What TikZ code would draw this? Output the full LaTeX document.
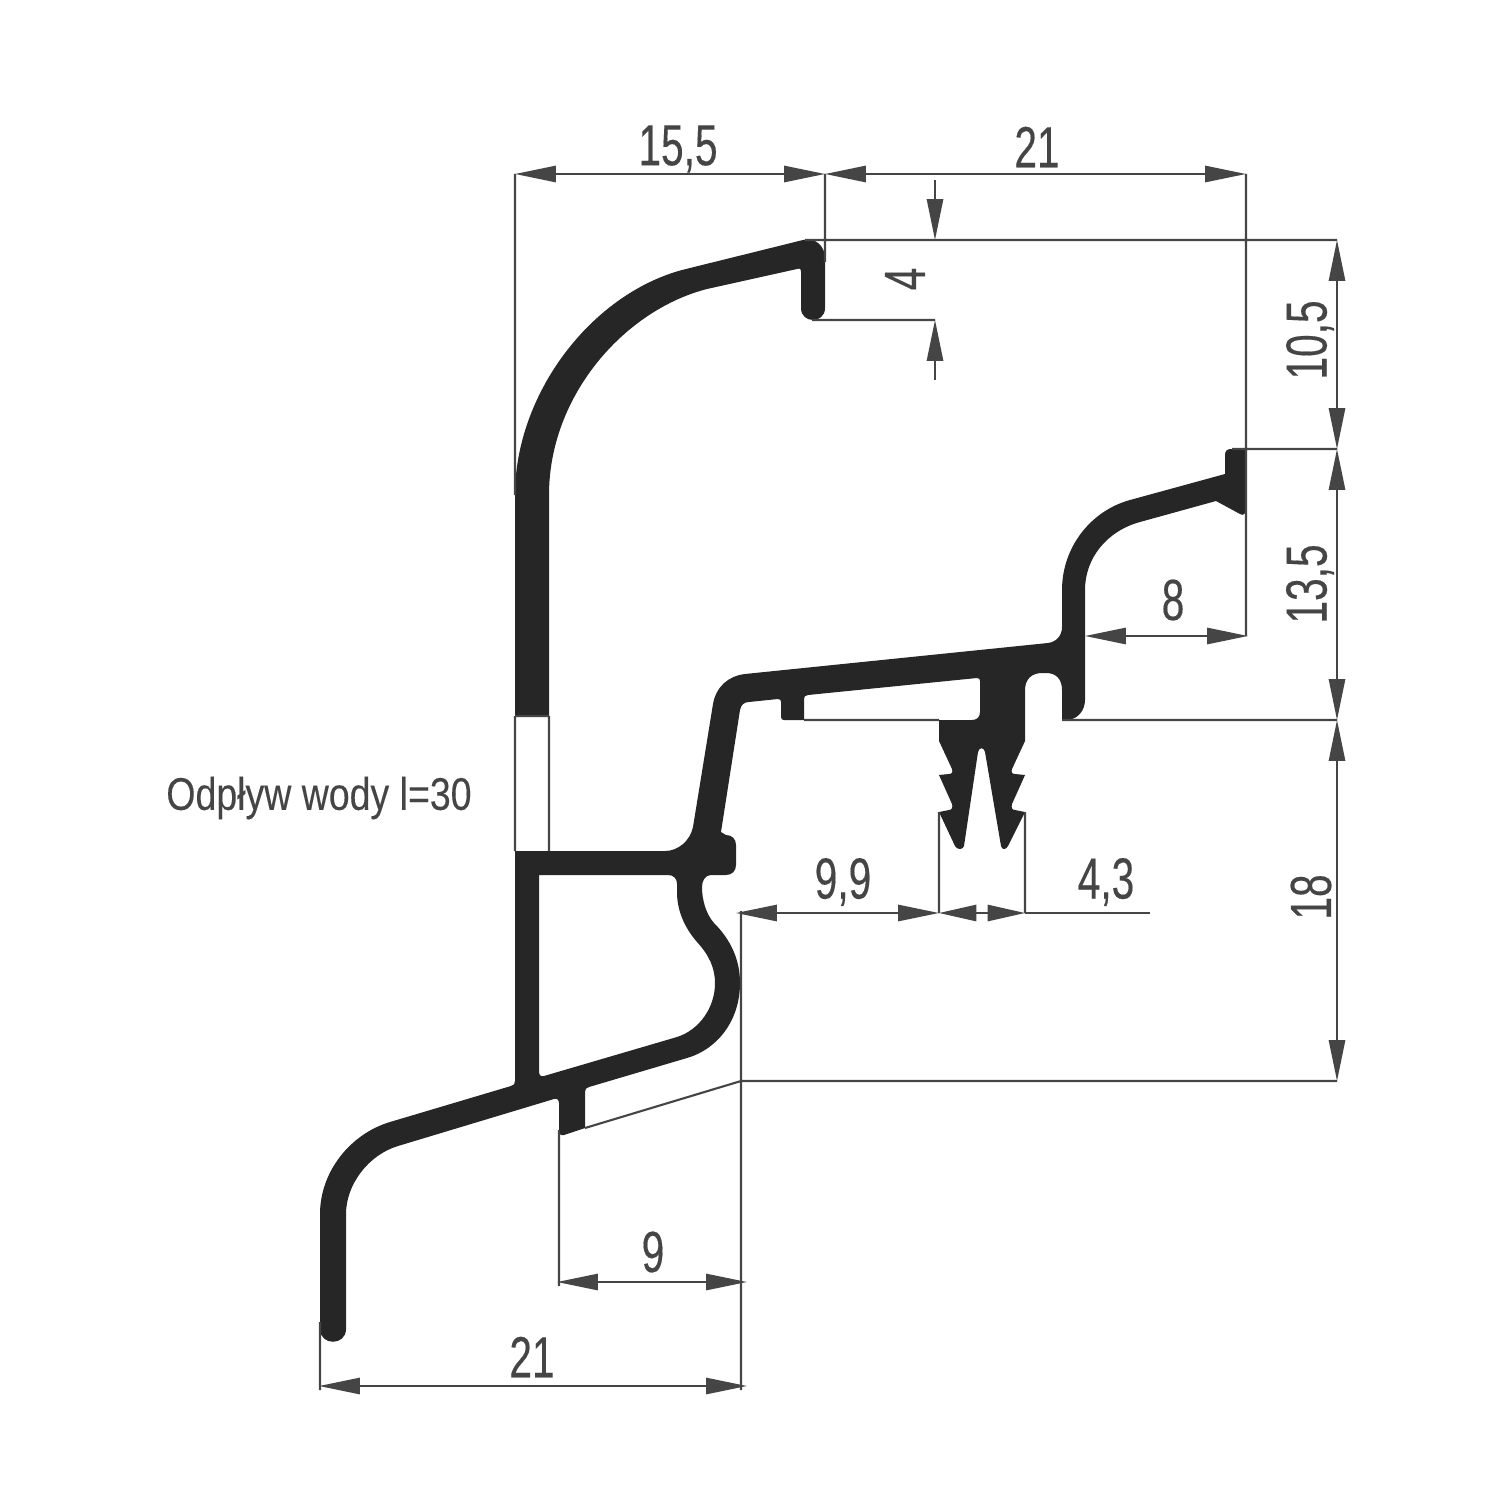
\documentclass[tikz,border=0pt]{standalone}
\usepackage{fontspec}
\setmainfont[FakeStretch=0.70,FakeBold=0.25]{Liberation Sans}
\newfontfamily\labelfont[FakeStretch=0.82,FakeBold=0.15]{Liberation Sans}
\usetikzlibrary{arrows.meta}
\definecolor{profil}{HTML}{262626}
\definecolor{wymiar}{HTML}{454545}
\tikzset{
	dimline/.style={draw=wymiar, line width=0.6pt, >={Triangle[length=11.6pt,width=4.6pt]}},
	shorttip/.style={>={Triangle[length=10.6pt,width=4.6pt]}},
	dimtext/.style={text=wymiar, font=\fontsize{16.5}{18}\selectfont, inner sep=0pt},
	dimtextv/.style={dimtext, rotate=90},
	profile/.style={fill=profil, draw=none, even odd rule}
}
\begin{document}
\begin{tikzpicture}[x=0.01cm,y=-0.01cm]
\useasboundingbox (0,0) rectangle (1500,1500);
%top hook
\fill[profile] (515,716) -- (515,495)
	.. controls (515,395) and (590,295) .. (682,270)
	-- (803,240) .. controls (815,237) and (825,246) .. (825,258)
	-- (825,308) .. controls (825,324) and (801,324) .. (801,308)
	-- (801,272) .. controls (801,269) and (800,268) .. (797,269)
	-- (707,289) .. controls (625,310) and (549,395) .. (549,495)
	-- (549,716) -- cycle;
%main body
\fill[profile] (515,851) -- (665,851)
	.. controls (678,851) and (690,841) .. (693,827)
	-- (713,704) .. controls (716,687) and (728,676) .. (745,674)
	-- (1048,643) .. controls (1056,642) and (1062,636) .. (1062,627)
	-- (1062,590) .. controls (1062,548) and (1090,511) .. (1130,500)
	-- (1225,474) -- (1225,455) .. controls (1225,451) and (1227,449) .. (1231,449)
	-- (1246,449) -- (1246,509) .. controls (1246,514) and (1243,516) .. (1240,514)
	-- (1216,501) -- (1140,522)
	.. controls (1107,531) and (1085,558) .. (1085,590)
	-- (1085,700) .. controls (1085,710) and (1078,720) .. (1066,720)
	-- (1062,720) -- (1062,690) .. controls (1062,679) and (1056,673) .. (1046,673)
	-- (1042,673) .. controls (1032,673) and (1025,679) .. (1025,690)
	-- (1025,741) -- (1012,769) .. controls (1011,772) and (1012,774) .. (1015,774)
	-- (1025,775) -- (1012,804) .. controls (1011,808) and (1012,810) .. (1015,810)
	-- (1025,812) -- (1008,846) .. controls (1006,850) and (1002,850) .. (1001,846)
	-- (985,752) .. controls (984,747) and (979,747) .. (978,752)
	-- (964,846) .. controls (963,850) and (957,850) .. (955,846)
	-- (939,812) -- (949,810) .. controls (952,810) and (953,807) .. (952,804)
	-- (939,775) -- (949,774) .. controls (952,774) and (953,772) .. (952,769)
	-- (939,741) -- (939,720) -- (972,720)
	.. controls (977,720) and (980,717) .. (980,712)
	-- (980,681) .. controls (980,679) and (979,678) .. (977,678)
	-- (808,695) .. controls (805,695) and (804,697) .. (804,699)
	-- (804,720) -- (784,720) .. controls (782,720) and (781,719) .. (781,717)
	-- (781,702) .. controls (781,700) and (780,699) .. (778,699)
	-- (749,702) .. controls (744,702) and (741,705) .. (740,710)
	-- (721,832) -- (726,835)
	.. controls (732,835) and (736,839) .. (736,845)
	-- (736,865) .. controls (736,871) and (732,875) .. (726,875)
	-- (711,875) .. controls (705,875) and (702,881) .. (702,887)
	.. controls (702,900) and (706,914) .. (714,923)
	.. controls (731,940) and (740,960) .. (740,983)
	.. controls (740,1020) and (718,1049) .. (687,1058)
	-- (589,1087) .. controls (586,1088) and (585,1089) .. (585,1092)
	-- (585,1128) -- (564,1135) .. controls (561,1136) and (559,1134) .. (559,1131)
	-- (559,1103) .. controls (559,1100) and (557,1098) .. (554,1099)
	-- (398,1146) .. controls (368,1155) and (346,1185) .. (346,1214)
	-- (346,1329) .. controls (346,1346) and (320,1346) .. (320,1329)
	-- (320,1214) .. controls (320,1172) and (350,1134) .. (390,1122)
	-- (511,1086) .. controls (514,1085) and (515,1084) .. (515,1081)
	-- cycle
	(539,875) -- (668,875) .. controls (674,875) and (677,879) .. (677,884)
	-- (677,892) .. controls (677,910) and (684,927) .. (697,942)
	.. controls (709,955) and (715,968) .. (715,983)
	.. controls (715,1008) and (699,1030) .. (677,1037)
	-- (544,1076) .. controls (541,1077) and (539,1075) .. (539,1072)
	-- cycle;
%dimension points
\coordinate (a15) at (515,174);
\coordinate (b15) at (825,174);
\coordinate (c21) at (1246,174);
\coordinate (hookleft) at (515,495);
\coordinate (hookright) at (825,262);
\coordinate (tip8) at (1248,636);
\coordinate (ext8) at (1246,636);
\coordinate (top4a) at (935,180);
\coordinate (top4b) at (935,240);
\coordinate (low4a) at (935,320);
\coordinate (low4b) at (935,380);
\coordinate (ext240a) at (805,240);
\coordinate (ext240b) at (1337,240);
\coordinate (ext320a) at (812,320);
\coordinate (ext449a) at (1232,449);
\coordinate (ext449b) at (1337,449);
\coordinate (ext719a) at (804,720);
\coordinate (ext719b) at (939,720);
\coordinate (ext719c) at (1062,720);
\coordinate (ext719d) at (1337,720);
\coordinate (ext1081a) at (741,1081);
\coordinate (ext1081b) at (1337,1081);
\coordinate (wall8) at (1085,636);
\coordinate (dim99a) at (736,913);
\coordinate (dim99b) at (939,913);
\coordinate (dim43b) at (1025,913);
\coordinate (dim43c) at (1150,913);
\coordinate (toothl) at (939,812);
\coordinate (toothr) at (1025,812);
\coordinate (ribfoot) at (585,1128);
\coordinate (ribleft) at (559,1130);
\coordinate (dim9a) at (557,1282);
\coordinate (dim9b) at (747,1282);
\coordinate (dim21a) at (319,1386);
\coordinate (dim21b) at (747,1386);
\coordinate (ext741a) at (741,911);
\coordinate (ext741b) at (741,1390);
\coordinate (ext320b) at (320,1322);
\coordinate (ext320c) at (320,1390);
\coordinate (ribleftb) at (559,1286);
\coordinate (gapa) at (515,716);
\coordinate (gapb) at (549,716);
\coordinate (gapc) at (515,851);
\coordinate (gapd) at (549,851);
%labels
\node[dimtext] (l155) at (678,149) {15,5};
\node[dimtext] (l21t) at (1037,147) {21};
\node[dimtextv] (l4) at (905,279) {4};
\node[dimtextv] (l105) at (1310,340) {10,5};
\node[dimtextv] (l135) at (1310,584) {13,5};
\node[dimtextv] (l18) at (1311,897) {18};
\node[dimtext] (l8) at (1173,600) {8};
\node[dimtext] (l99) at (843,882) {9,9};
\node[dimtext] (l43) at (1106,882) {4,3};
\node[dimtext] (l9) at (653,1252) {9};
\node[dimtext] (l21b) at (532,1357) {21};
\node[dimtext, font=\labelfont\fontsize{13}{15}\selectfont] (lwoda) at (319,798) {Odpływ wody l=30};
%dimension lines
\draw[dimline,<->] (a15) -- (b15);
\draw[dimline,<->] (b15) -- (c21);
\draw[dimline,->] (top4a) -- (top4b);
\draw[dimline,->] (low4b) -- (low4a);
\draw[dimline,<->] (ext240b) -- (ext449b);
\draw[dimline,<->] (ext449b) -- (ext719d);
\draw[dimline,<->] (ext719d) -- (ext1081b);
\draw[dimline,<->] (wall8) -- (tip8);
\draw[dimline,<->] (dim99a) -- (dim99b);
\draw[dimline,shorttip,<->] (dim99b) -- (dim43b);
\draw[dimline] (dim43b) -- (dim43c);
\draw[dimline,<->] (dim9a) -- (dim9b);
\draw[dimline,<->] (dim21a) -- (dim21b);
%extension lines
\draw[dimline] (a15) -- (hookleft)
	(b15) -- (hookright)
	(c21) -- (ext8)
	(ext240a) -- (ext240b)
	(ext320a) -- (low4a)
	(ext449a) -- (ext449b)
	(ext719a) -- (ext719b)
	(ext719c) -- (ext719d)
	(ext1081a) -- (ext1081b)
	(ribfoot) -- (ext1081a)
	(toothl) -- (dim99b)
	(toothr) -- (dim43b)
	(ribleft) -- (ribleftb)
	(ext741a) -- (ext741b)
	(ext320b) -- (ext320c)
	(gapa) -- (gapb)
	(gapa) -- (gapc)
	(gapb) -- (gapd);
\end{tikzpicture}
\end{document}
